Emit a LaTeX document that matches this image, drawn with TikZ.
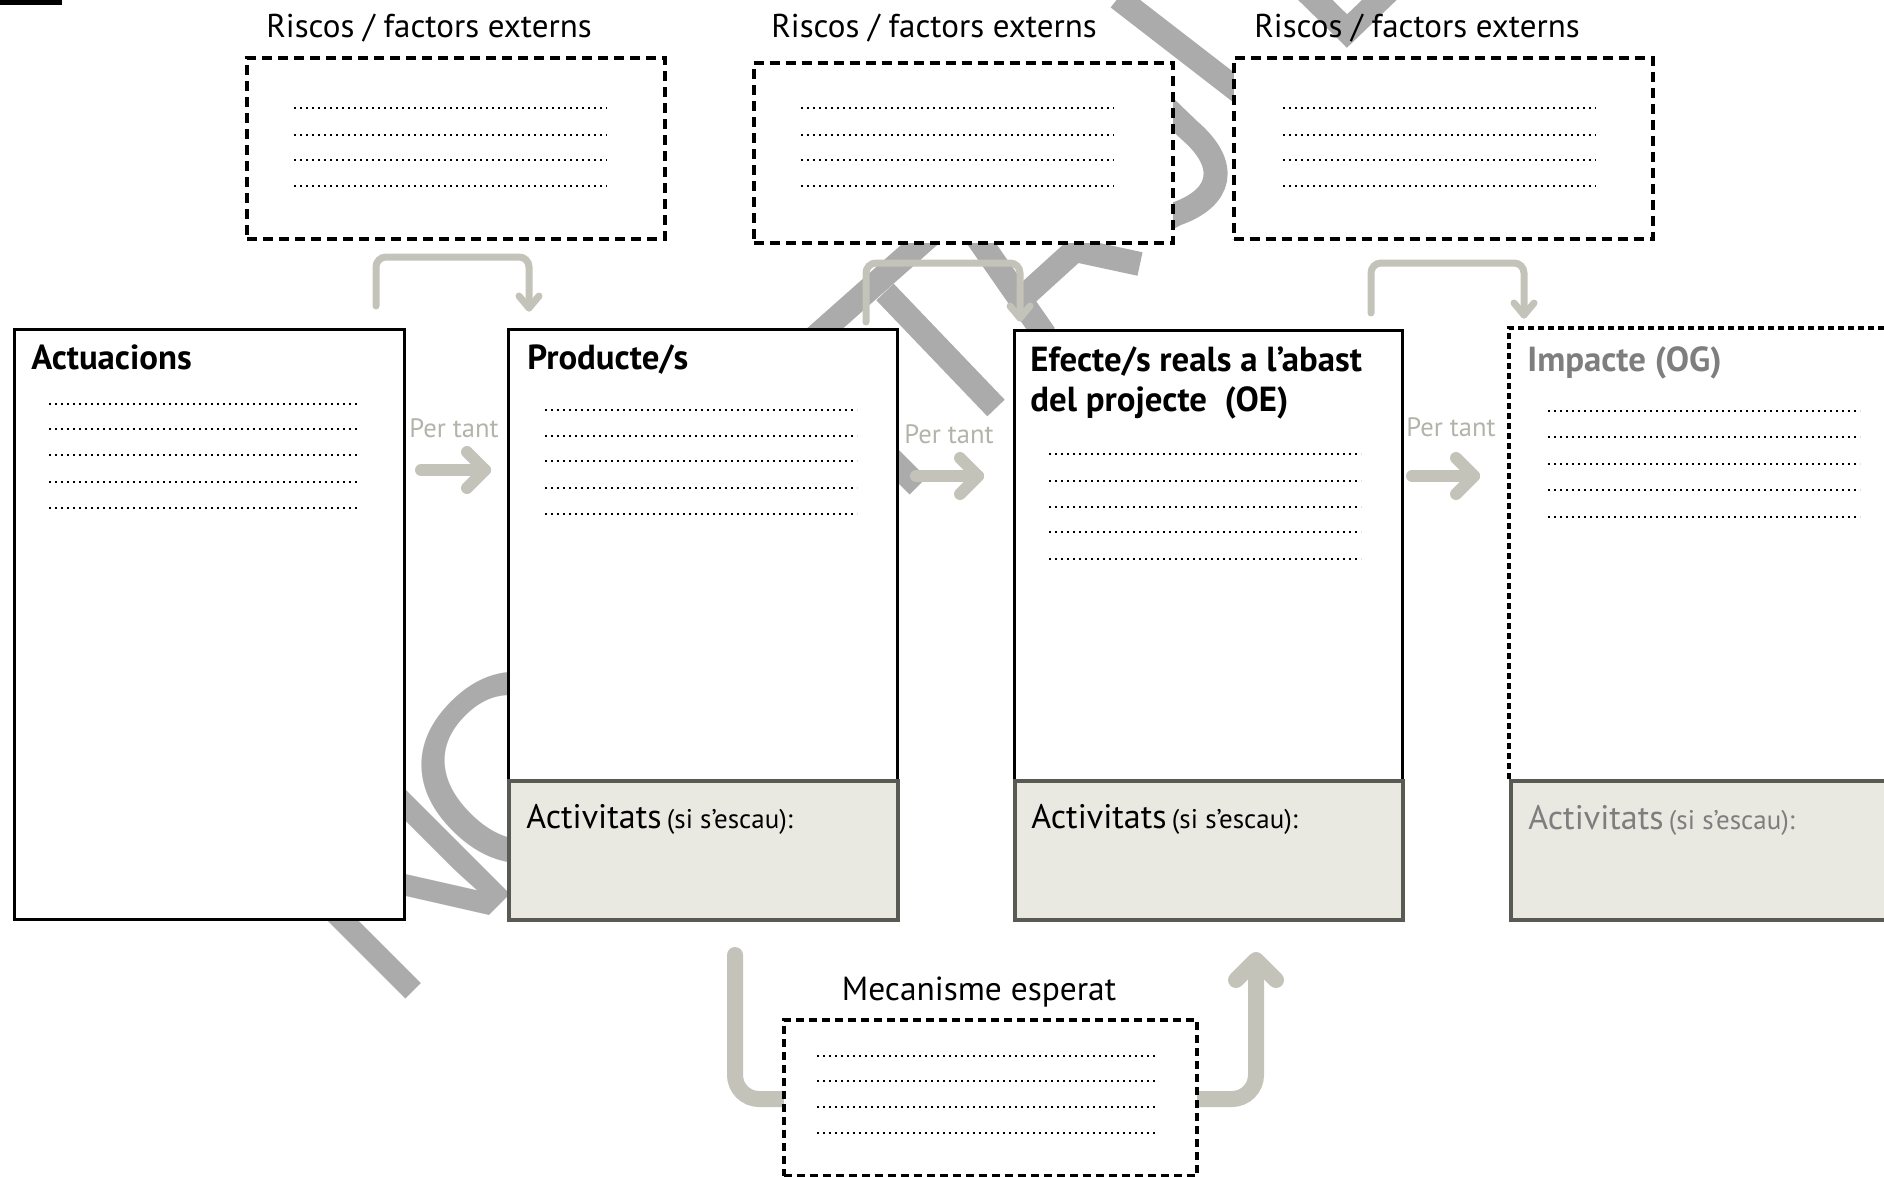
\documentclass[tikz,border=0pt]{standalone}
\usepackage{fontspec}
\setmainfont{PT Sans}
\newfontfamily\wmfont{Liberation Sans}
\usetikzlibrary{arrows.meta}
\definecolor{arrowgrey}{HTML}{C3C3BA}
\definecolor{pertant}{HTML}{B3B3AA}
\definecolor{actfill}{HTML}{E9E9E2}
\definecolor{actborder}{HTML}{5A5A54}
\definecolor{impgrey}{HTML}{7E7E7E}
\definecolor{wmgrey}{HTML}{ABABAB}
\tikzset{
  mainbox/.style={draw=black, line width=1.5pt, fill=white, inner sep=0pt, anchor=north west},
  actbox/.style={draw=actborder, line width=1.8pt, fill=actfill, inner sep=0pt, anchor=north west},
  riskbox/.style={draw=black, line width=2.2pt, dash pattern=on 5pt off 3pt, fill=white, inner sep=0pt, anchor=north west},
  dotline/.style={line width=1.25pt, dash pattern=on 1.1pt off 1.9pt},
  risklabel/.style={font=\fontsize{16.5}{18}\selectfont, anchor=base, inner sep=0pt},
  boxtitle/.style={font=\fontsize{17.4}{20}\selectfont\bfseries, anchor=base west, inner sep=0pt},
  pertantlabel/.style={font=\fontsize{13.3}{15}\selectfont, text=pertant, anchor=base, inner sep=0pt},
  actlabel/.style={anchor=base west, inner sep=0pt},
  thinarrow/.style={draw=arrowgrey, line width=3.5pt, rounded corners=5pt, line cap=round},
  headline/.style={draw=arrowgrey, line cap=round, line join=round},
  fatarrow/.style={draw=arrowgrey, line width=8pt, rounded corners=12pt, line cap=round},
  watermark/.style={font=\wmfont\fontsize{132.5}{140}\selectfont, text=wmgrey, rotate=45, anchor=base west, inner sep=0pt},
  wmband/.style={draw=wmgrey, line width=12pt, line cap=butt, line join=miter}
}
\newcommand{\acttext}{{\fontsize{17}{20}\selectfont Activitats} {\fontsize{13.5}{15}\selectfont (si s’escau):}}
\begin{document}
\begin{tikzpicture}[x=0.5pt,y=-0.5pt]
\useasboundingbox (0,0) rectangle (1884,1177);
% ---- watermark (behind everything; mostly hidden by the boxes) ----
\node[watermark] (wmN) at (390,1015) {N};
\node[watermark] (wmO) at (509,906) {O};
\draw[wmband] (850,418) -- (918,486);
\draw[wmband] (795,355) -- (945,222);
\draw[wmband] (885,292) -- (996,408);
\draw[wmband] (972,230) -- (1045,335);
\draw[wmband] (1020,300) -- (1075,250) -- (1140,264);
\draw[wmband] (1135,78) -- (1189,130) .. controls (1230,165) and (1222,198) .. (1176,214) -- (1150,228);
\draw[wmband] (1118,-2) -- (1250,100);
\draw[wmband] (1300,-15) -- (1347,31) -- (1397,-17);

% header fragment
\fill[black] (0,0) rectangle (62,5);

% risk labels
\node[risklabel] (rl1) at (429,38) {Riscos / factors externs};
\node[risklabel] (rl2) at (934,38) {Riscos / factors externs};
\node[risklabel] (rl3) at (1417,38) {Riscos / factors externs};

% risk boxes
\node[riskbox, minimum width=209pt, minimum height=90.5pt] (r1) at (245,56) {};
\node[riskbox, minimum width=209.5pt, minimum height=90pt] (r2) at (752,61) {};
\node[riskbox, minimum width=209.5pt, minimum height=90.5pt] (r3) at (1232,56) {};
\foreach \y in {108,135,160,186}{
  \draw[dotline] (294,\y) -- (607,\y);
  \draw[dotline] (801,\y) -- (1114,\y);
  \draw[dotline] (1283,\y) -- (1596,\y);
}

% main boxes
\node[mainbox, minimum width=195pt, minimum height=295pt] (act) at (13,328) {};
\node[mainbox, minimum width=194.5pt, minimum height=225.5pt] (prod) at (507,328) {};
\node[actbox, minimum width=194.5pt, minimum height=69.5pt] (prodact) at (507,779) {};
\node[mainbox, minimum width=194pt, minimum height=225pt] (ef) at (1013,329) {};
\node[actbox, minimum width=194pt, minimum height=69.5pt] (efact) at (1013,779) {};
\fill[white] (1509,328) rectangle (1884,779);
\node[actbox, minimum width=200pt, minimum height=69.5pt] (impact) at (1509,779) {};
\coordinate (impTL) at (1509,328);
\coordinate (impBL) at (1509,779);
\coordinate (impTR) at (1900,328);
\draw[line width=1.7pt, dash pattern=on 3pt off 2pt] (impBL) -- (impTL) -- (impTR);

% titles
\node[boxtitle] (tact) at (31,369) {Actuacions};
\node[boxtitle] (tprod) at (527,369) {Producte/s};
\node[boxtitle] (tef1) at (1030,371) {Efecte/s reals a l’abast};
\node[boxtitle] (tef2) at (1030,411) {del projecte\ \ (OE)};
\node[boxtitle, text=impgrey] (timp) at (1527,371) {Impacte (OG)};

% dotted lines in main boxes
\foreach \y in {404,429,455,482,508}{ \draw[dotline] (49,\y) -- (360,\y); }
\foreach \y in {410,436,461,488,514}{ \draw[dotline] (545,\y) -- (857,\y); }
\foreach \y in {454,481,507,532,559}{ \draw[dotline] (1049,\y) -- (1361,\y); }
\foreach \y in {411,437,464,490,517}{ \draw[dotline] (1548,\y) -- (1860,\y); }

% activitats labels
\node[actlabel] (a1) at (526,828) {\acttext};
\node[actlabel] (a2) at (1031,828) {\acttext};
\node[actlabel, text=impgrey] (a3) at (1528,829) {\acttext};

% per tant
\node[pertantlabel] (p1) at (454,437) {Per tant};
\node[pertantlabel] (p2) at (949,443) {Per tant};
\node[pertantlabel] (p3) at (1451,436) {Per tant};
\foreach \xa/\xb/\yy in {421/485/470, 916/978/476, 1412/1474/476}{
  \draw[headline, line width=6pt] (\xa,\yy) -- (\xb,\yy);
  \draw[headline, line width=6pt] (\xb-18,\yy-18) -- (\xb,\yy) -- (\xb-18,\yy+18);
}

% bent thin arrows
\coordinate (b1s) at (376,306); \coordinate (b1e) at (529,308);
\coordinate (b2s) at (866,322); \coordinate (b2e) at (1020,318);
\coordinate (b3s) at (1371,313); \coordinate (b3e) at (1524,315);
\draw[thinarrow] (b1s) -- (376,257) -- (529,257) -- (b1e);
\draw[headline, line width=3.5pt] (519,296) -- (b1e) -- (539,296);
\draw[thinarrow] (b2s) -- (866,263) -- (1020,263) -- (b2e);
\draw[headline, line width=3.5pt] (1010,306) -- (b2e) -- (1030,306);
\draw[thinarrow] (b3s) -- (1371,263) -- (1524,263) -- (b3e);
\draw[headline, line width=3.5pt] (1514,303) -- (b3e) -- (1534,303);

% mecanisme
\node[risklabel, font=\fontsize{16.7}{18}\selectfont] (ml) at (979,1000) {Mecanisme esperat};
\draw[fatarrow] (735,955) -- (735,1099) -- (782,1099);
\draw[fatarrow] (1195,1099) -- (1256,1099) -- (1256,962);
\draw[headline, line width=8pt] (1236,980) -- (1256,960) -- (1276,980);
\node[riskbox, line width=1.8pt, dash pattern=on 4pt off 2.5pt, minimum width=206.5pt, minimum height=78pt] (mec) at (782,1018) {};
\foreach \y in {1056,1081,1107,1133}{ \draw[dotline] (817,\y) -- (1155,\y); }
\end{tikzpicture}
\end{document}
